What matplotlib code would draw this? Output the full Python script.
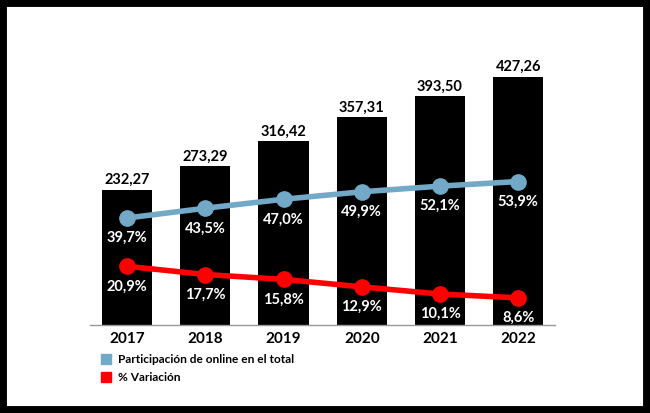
import matplotlib
matplotlib.use('Agg')
import matplotlib.pyplot as plt
from matplotlib.patches import Rectangle
from matplotlib.lines import Line2D

plt.rcParams['font.family'] = ['Lato', 'DejaVu Sans']

# data
years = ['2017', '2018', '2019', '2020', '2021', '2022']
ventas = [232.27, 273.29, 316.42, 357.31, 393.50, 427.26]
ventas_labels = ['232,27', '273,29', '316,42', '357,31', '393,50', '427,26']
online = [39.7, 43.5, 47.0, 49.9, 52.1, 53.9]
online_labels = ['39,7%', '43,5%', '47,0%', '49,9%', '52,1%', '53,9%']
variacion = [20.9, 17.7, 15.8, 12.9, 10.1, 8.6]
variacion_labels = ['20,9%', '17,7%', '15,8%', '12,9%', '10,1%', '8,6%']

blue = '#72A9C6'
red = '#FF0000'

fig = plt.figure(figsize=(6.5, 4.13), dpi=100)
ax = fig.add_axes([0.1385, 0.2131, 0.7154, 0.6416])
x = list(range(len(years)))

ax.bar(x, ventas, width=0.64, color='black', zorder=1)
for xi, v, lab in zip(x, ventas, ventas_labels):
    ax.annotate(lab, (xi, v), xytext=(0, 2), textcoords='offset points',
                ha='center', va='bottom', fontsize=10.5, fontweight='bold')

ax.set_xlim(-0.473, 5.47)
ax.set_ylim(0, 456)
ax.set_xticks(x)
ax.set_xticklabels(years, fontsize=11, fontweight='bold')
ax.tick_params(axis='x', length=0, pad=5)
ax.set_yticks([])
for s in ['top', 'right', 'left']:
    ax.spines[s].set_visible(False)
ax.spines['bottom'].set_color('#999999')
ax.spines['bottom'].set_linewidth(1)

# secondary scale for the two percentage lines
ax2 = ax.twinx()
ax2.set_ylim(-1.95, 101.2)
ax2.set_yticks([])
for s in ['top', 'right', 'left', 'bottom']:
    ax2.spines[s].set_visible(False)

ax2.plot(x, online, color=blue, lw=4, marker='o', markersize=11, zorder=3)
ax2.plot(x, variacion, color=red, lw=4, marker='o', markersize=11, zorder=3)
for xi, v, lab in zip(x, online, online_labels):
    ax2.annotate(lab, (xi, v), xytext=(0, -14.5), textcoords='offset points',
                 ha='center', va='center', fontsize=10.5, fontweight='bold', color='white')
for xi, v, lab in zip(x, variacion, variacion_labels):
    ax2.annotate(lab, (xi, v), xytext=(0, -14.5), textcoords='offset points',
                 ha='center', va='center', fontsize=10.5, fontweight='bold', color='white')

handles = [Line2D([], [], ls='none', marker='s', markersize=7, color=blue),
           Line2D([], [], ls='none', marker='s', markersize=7, color=red)]
fig.legend(handles, ['Participación de online en el total', '% Variación'],
           loc='upper left', bbox_to_anchor=(0.156, 0.143), frameon=False,
           handlelength=0.8, handletextpad=0.55, labelspacing=0.6,
           borderaxespad=0, borderpad=0,
           prop={'weight': 'bold', 'size': 8.6})

fig.patches.append(Rectangle((0, 0), 1, 1, transform=fig.transFigure,
                             fill=False, ec='black', lw=10))

fig.savefig('out.png', dpi=100)
